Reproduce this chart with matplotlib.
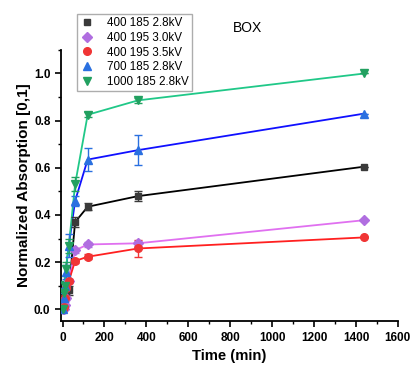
import numpy as np
import matplotlib.pyplot as plt

plt.rcParams['font.family'] = ['Liberation Sans', 'DejaVu Sans']

t = [0, 5, 10, 15, 30, 60, 120, 360, 1440]

a400_185 = [0.0, 0.03, 0.05, 0.06, 0.08, 0.37, 0.435, 0.48, 0.605]
e400_185 = [0.0, 0.01, 0.01, 0.01, 0.02, 0.02, 0.015, 0.02, 0.0]
a400_195_30 = [0.0, 0.0, 0.02, 0.05, 0.12, 0.25, 0.275, 0.28, 0.378]
e400_195_30 = [0.0, 0.0, 0.01, 0.01, 0.01, 0.01, 0.01, 0.01, 0.0]
a400_195_35 = [0.0, 0.01, 0.05, 0.09, 0.12, 0.205, 0.223, 0.258, 0.305]
e400_195_35 = [0.0, 0.01, 0.01, 0.01, 0.01, 0.01, 0.01, 0.035, 0.0]
a700_185 = [0.0, 0.05, 0.1, 0.16, 0.27, 0.46, 0.635, 0.675, 0.83]
e700_185 = [0.0, 0.02, 0.02, 0.03, 0.05, 0.02, 0.05, 0.065, 0.0]
a1000_185 = [0.0, 0.07, 0.1, 0.17, 0.27, 0.53, 0.825, 0.886, 1.0]
e1000_185 = [0.0, 0.02, 0.02, 0.03, 0.03, 0.03, 0.01, 0.01, 0.0]

labels = ['400 185 2.8kV', '400 195 3.0kV', '400 195 3.5kV', '700 185 2.8kV', '1000 185 2.8kV']
series = [a400_185, a400_195_30, a400_195_35, a700_185, a1000_185]
errs = [e400_185, e400_195_30, e400_195_35, e700_185, e1000_185]
markers = ['s', 'D', 'o', '^', 'v']
mcolors = ['#3a3a3a', '#b06ee0', '#f03535', '#2a70e0', '#22a060']
lcolors = ['#000000', '#e070f0', '#ff2020', '#1010ff', '#20c888']
msizes = [5, 5, 5.5, 6, 6]

fig = plt.figure(figsize=(4.14, 3.67), dpi=100)
ax = fig.add_axes([0.147, 0.125, 0.814, 0.739])

handles = []
for y, e, m, mc, lc, ms, lab in zip(series, errs, markers, mcolors, lcolors, msizes, labels):
    ax.plot(t, y, '-', color=lc, lw=1.3, zorder=2)
    ax.errorbar(t, y, yerr=e, fmt='none', ecolor=mc, elinewidth=1, capsize=3, zorder=3)
    h, = ax.plot(t, y, linestyle='none', marker=m, color=mc, ms=ms, zorder=4, label=lab)
    handles.append(h)

ax.set_xlim(-8, 1600)
ax.set_ylim(-0.05, 1.1)
ax.set_xticks(np.arange(0, 1601, 200))
ax.set_xticks(np.arange(0, 1601, 100), minor=True)
ax.set_yticks(np.arange(0, 1.01, 0.2))
ax.set_yticks(np.arange(0, 1.11, 0.1), minor=True)
ax.set_yticklabels(['0.0', '0.2', '0.4', '0.6', '0.8', '1.0'])
ax.spines['top'].set_visible(False)
ax.spines['right'].set_visible(False)
for s in ['left', 'bottom']:
    ax.spines[s].set_linewidth(1.3)
ax.tick_params(which='major', direction='out', length=4, width=1.2, labelsize=8.5)
ax.tick_params(which='minor', direction='out', length=2.5, width=1)
for lab in ax.get_xticklabels() + ax.get_yticklabels():
    lab.set_fontweight('bold')

ax.set_xlabel('Time (min)', fontsize=10.7, fontweight='bold', labelpad=4)
ax.set_ylabel('Normalized Absorption [0,1]', fontsize=11, fontweight='bold', labelpad=2)

fig.text(0.597, 0.925, 'BOX', fontsize=10, ha='center', va='center')

fig.legend(handles=handles, loc='upper left', bbox_to_anchor=(0.171, 0.978),
           fontsize=8.4, frameon=True, fancybox=False, edgecolor='#999999',
           handlelength=1.2, handletextpad=1.1, labelspacing=0.22, borderpad=0.3)

fig.savefig('out.png', dpi=100)
